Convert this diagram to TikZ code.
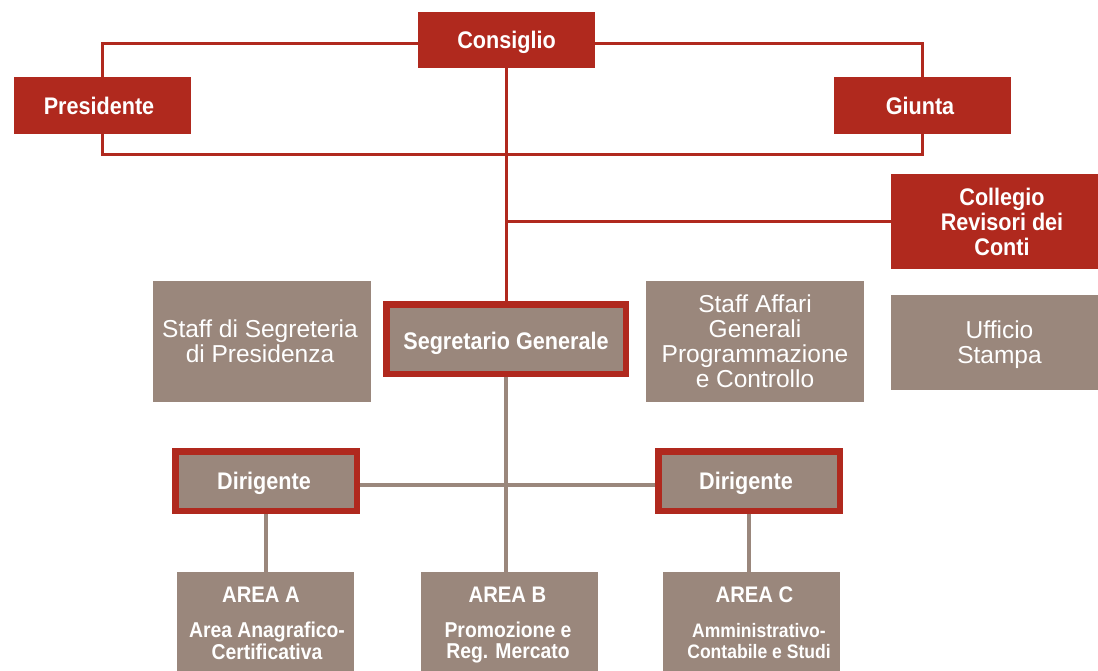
\documentclass[tikz,border=0pt]{standalone}
\usepackage{fontspec}
\setmainfont{Liberation Sans}
\newfontfamily\condfont{Liberation Sans}[FakeStretch=0.9]
\usetikzlibrary{backgrounds}
\definecolor{cred}{HTML}{B0291E}
\definecolor{cgray}{HTML}{9A877C}
\newcommand\tstack[1]{\begin{tabular}[t]{@{}c@{}}#1\end{tabular}}
\tikzset{
  redbox/.style={fill=cred, draw=none, inner sep=0pt},
  graybox/.style={fill=cgray, draw=none, inner sep=0pt},
  framebox/.style={fill=cgray, draw=cred, line width=6.5pt, inner sep=0pt},
  boldtxt/.style={text=white, inner sep=0pt, anchor=base, font=\condfont\bfseries\fontsize{24}{25}\selectfont},
  areatxt/.style={text=white, inner sep=0pt, anchor=base, font=\condfont\bfseries\fontsize{22.5}{24}\selectfont},
  subtxt/.style={text=white, inner sep=0pt, anchor=base, font=\condfont\bfseries\fontsize{21.5}{21.5}\selectfont},
  smalltxt/.style={text=white, inner sep=0pt, anchor=base, font=\condfont\bfseries\fontsize{19.5}{21}\selectfont},
  regtxt/.style={text=white, inner sep=0pt, anchor=base, font=\fontsize{24.5}{25}\selectfont},
  redline/.style={draw=cred, line width=3pt},
  grayline/.style={draw=cgray, line width=3.5pt},
}
\begin{document}
\begin{tikzpicture}[x=1pt, y=-1pt]
\useasboundingbox (0,0) rectangle (1098,670);
% boxes
\node[redbox, minimum width=177pt, minimum height=56pt] (cons) at (506.5,40) {};
\node[redbox, minimum width=177pt, minimum height=57pt] (pres) at (102,105.5) {};
\node[redbox, minimum width=177pt, minimum height=57pt] (giunta) at (922,105.5) {};
\node[redbox, minimum width=209pt, minimum height=95pt] (coll) at (995.5,221.5) {};
\node[graybox, minimum width=218pt, minimum height=121pt] (staffseg) at (262,341.5) {};
\node[framebox, minimum width=239.5pt, minimum height=69.5pt] (segr) at (506,339) {};
\node[graybox, minimum width=218pt, minimum height=121pt] (staffaff) at (755,341.5) {};
\node[graybox, minimum width=209pt, minimum height=95pt] (uff) at (995.5,342.5) {};
\node[framebox, minimum width=181.5pt, minimum height=59.5pt] (dirl) at (266,481) {};
\node[framebox, minimum width=181.5pt, minimum height=59.5pt] (dirr) at (749,481) {};
\node[graybox, minimum width=177pt, minimum height=100pt] (areaa) at (265.5,622) {};
\node[graybox, minimum width=177pt, minimum height=100pt] (areab) at (509.5,622) {};
\node[graybox, minimum width=177pt, minimum height=100pt] (areac) at (751.5,622) {};
% texts
\node[boldtxt] (cons-t) at (506.5,48) {Consiglio};
\node[boldtxt] (pres-t) at (99,114) {Presidente};
\node[boldtxt] (giunta-t) at (920,114) {Giunta};
\node[boldtxt] (coll-t) at (1002,205) {\tstack{Collegio\\Revisori dei\\Conti}};
\node[regtxt] (staffseg-t) at (260,337) {\tstack{Staff di Segreteria\\di Presidenza}};
\node[boldtxt] (segr-t) at (506,349) {Segretario Generale};
\node[regtxt] (staffaff-t) at (755,312) {\tstack{Staff Affari\\Generali\\Programmazione\\e Controllo}};
\node[regtxt] (uff-t) at (999.5,338) {\tstack{Ufficio\\Stampa}};
\node[boldtxt] (dirl-t) at (264,489) {Dirigente};
\node[boldtxt] (dirr-t) at (746,489) {Dirigente};
\node[areatxt] (areaa-t) at (261,602) {AREA A};
\node[subtxt] (areaa-s) at (267,637) {\tstack{Area Anagrafico-\\Certificativa}};
\node[areatxt] (areab-t) at (507.5,602) {AREA B};
\node[subtxt] (areab-s) at (508,637) {\tstack{Promozione e\\Reg. Mercato}};
\node[areatxt] (areac-t) at (754.5,602) {AREA C};
\node[smalltxt] (areac-s) at (759,637) {\tstack{Amministrativo-\\Contabile e Studi}};
% connectors
\begin{scope}[on background layer]
\draw[redline] ([yshift=-3pt]cons.west) -| (pres.north);
\draw[redline] ([yshift=-3pt]cons.east) -| (giunta.north);
\draw[redline] (pres.south) -- ++(0,20) -| (giunta.south);
\draw[redline] (cons.south) -- (cons.south |- segr.north);
\draw[redline] (cons.south |- coll.west) -- (coll.west);
\draw[grayline] (segr.south) -- (segr.south |- areab.north);
\draw[grayline] ([yshift=-4pt]dirl.east) -- ([yshift=-4pt]dirr.west);
\draw[grayline] (dirl.south) -- (dirl.south |- areaa.north);
\draw[grayline] (dirr.south) -- (dirr.south |- areac.north);
\end{scope}
\end{tikzpicture}
\end{document}
